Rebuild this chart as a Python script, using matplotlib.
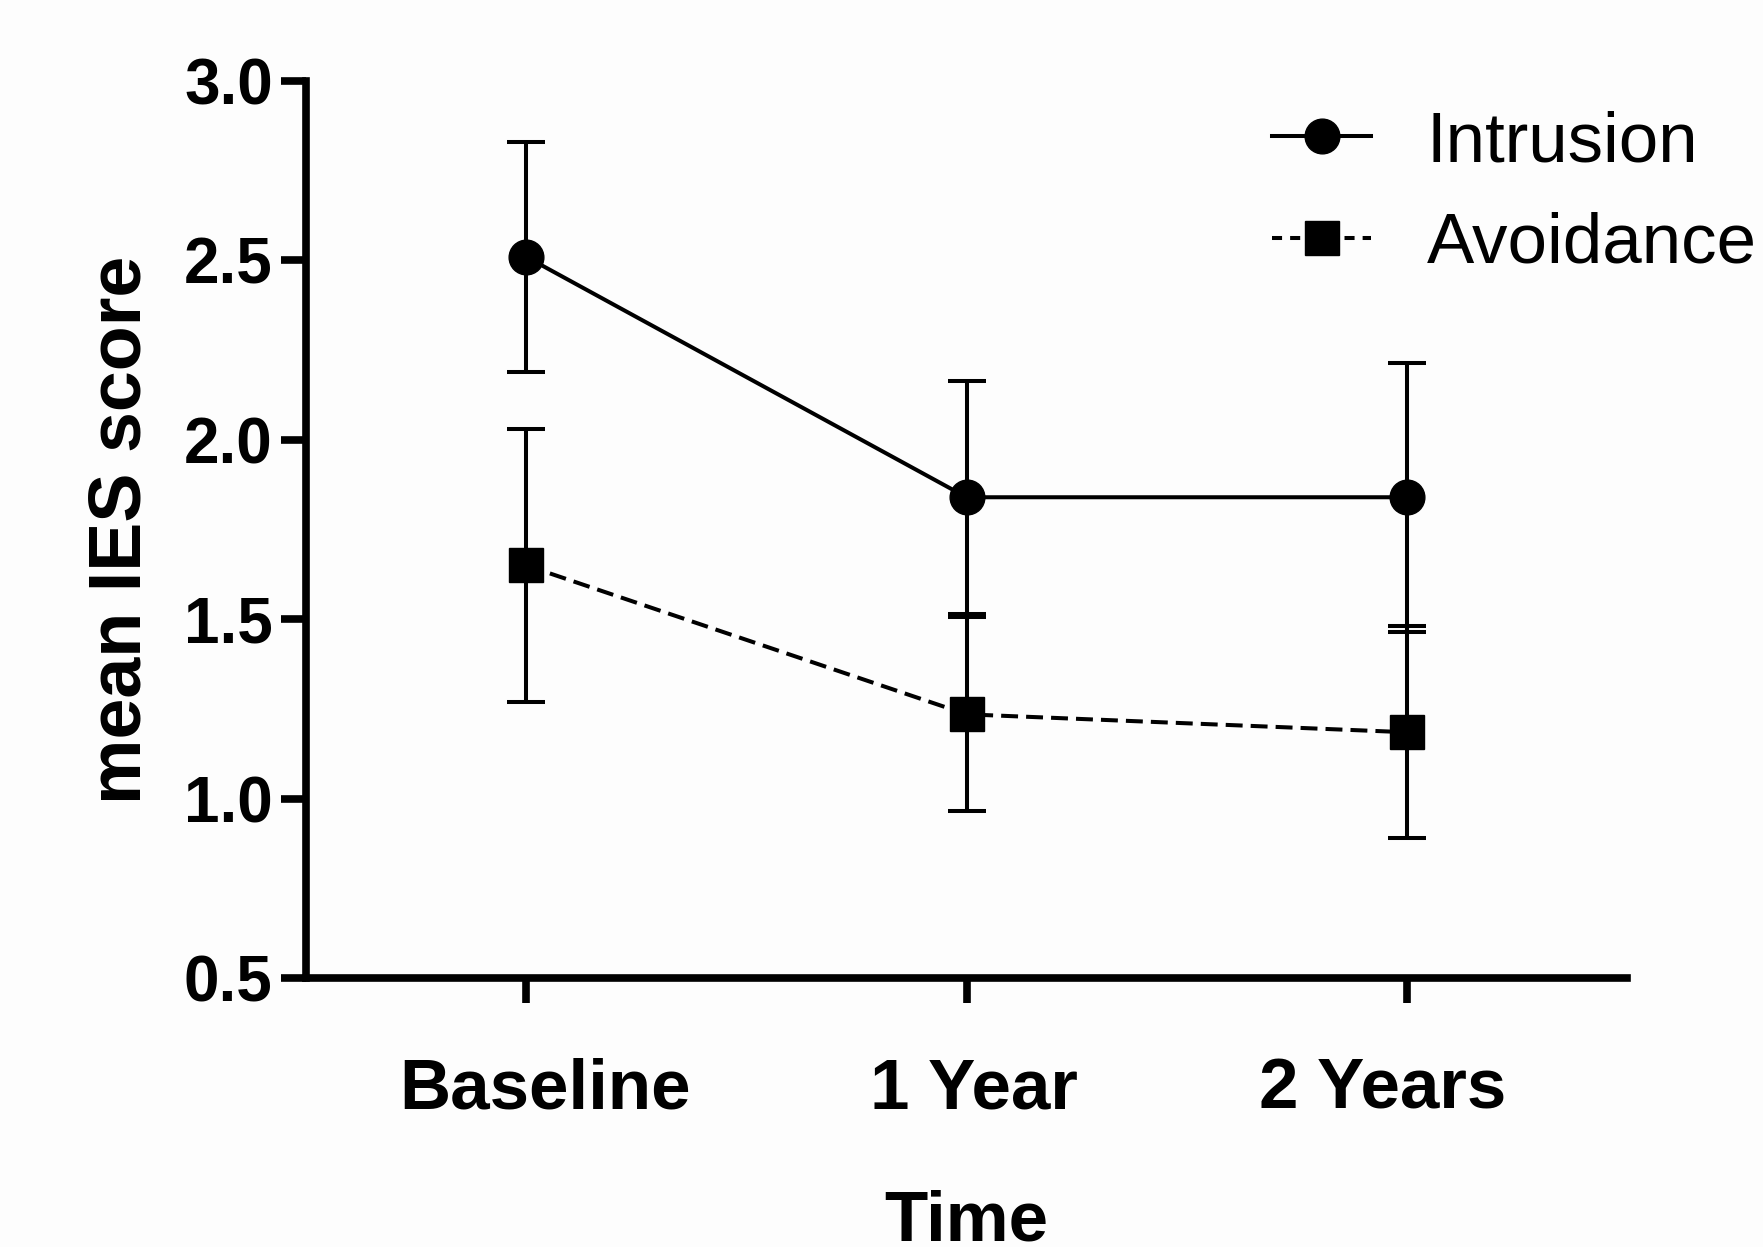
import matplotlib
matplotlib.use("Agg")
import matplotlib.pyplot as plt
from matplotlib.lines import Line2D
from matplotlib.transforms import ScaledTranslation

categories = ["Baseline", "1 Year", "2 Years"]
intrusion_mean = [2.51, 1.84, 1.84]
intrusion_err = [0.32, 0.325, 0.375]
avoidance_mean = [1.65, 1.235, 1.185]
avoidance_err = [0.38, 0.27, 0.295]
yticks = [0.5, 1.0, 1.5, 2.0, 2.5, 3.0]

plt.rcParams['font.family'] = ['Liberation Sans', 'DejaVu Sans']

fig = plt.figure(figsize=(17.63, 12.47), dpi=100)
fig.patch.set_facecolor('#fdfdfd')
ax = fig.add_axes([0.1736, 0.2157, 0.7493, 0.7193])
ax.set_facecolor('none')

x = list(range(len(categories)))
lw = 2.9
dash = (0, (4.2, 2.0))
ax.errorbar(x, intrusion_mean, yerr=intrusion_err, color='black', lw=lw,
            marker='o', ms=25, capsize=14, capthick=lw, elinewidth=lw,
            linestyle='-', zorder=3)
ax.errorbar(x, avoidance_mean, yerr=avoidance_err, color='black', lw=lw,
            marker='s', ms=24, capsize=14, capthick=lw, elinewidth=lw,
            linestyle=dash, zorder=3)

ax.set_xlim(-0.5, 2.5)
ax.set_ylim(0.5, 3.0)
ax.set_xticks(x)
ax.set_xticklabels(categories, fontsize=51, fontweight='bold')
ax.set_yticks(yticks)
ax.set_yticklabels([f"{v:.1f}" for v in yticks], fontsize=46, fontweight='bold')
ax.tick_params(axis='y', length=18, width=5.5, pad=6)
ax.tick_params(axis='x', length=18, width=5.5, pad=39)

# small horizontal offsets of the category labels as in the reference
for lab, dx in zip(ax.get_xticklabels(), [19, 7, -24]):
    lab.set_transform(lab.get_transform() + ScaledTranslation(dx / 100, 0, fig.dpi_scale_trans))

for s in ['top', 'right']:
    ax.spines[s].set_visible(False)
for s in ['left', 'bottom']:
    ax.spines[s].set_linewidth(5.5)
    ax.spines[s].set_capstyle('projecting')

ax.set_ylabel('mean IES score', fontsize=53, fontweight='bold', labelpad=20)
ax.set_xlabel('Time', fontsize=51, fontweight='bold', labelpad=48)

handles = [
    Line2D([], [], color='black', lw=lw, marker='o', ms=25, linestyle='-'),
    Line2D([], [], color='black', lw=lw, marker='s', ms=24, linestyle=(0, (2.5, 2.0))),
]
leg = ax.legend(handles, ['Intrusion', 'Avoidance'], loc='upper left',
                bbox_to_anchor=(1272/1763, 1 - 110/1247),
                bbox_transform=fig.transFigure, frameon=False, fontsize=51,
                handlelength=1.4, handletextpad=0.78, labelspacing=0.5,
                numpoints=1, borderpad=0, borderaxespad=0)

fig.savefig('out.png', dpi=100, facecolor=fig.get_facecolor())
